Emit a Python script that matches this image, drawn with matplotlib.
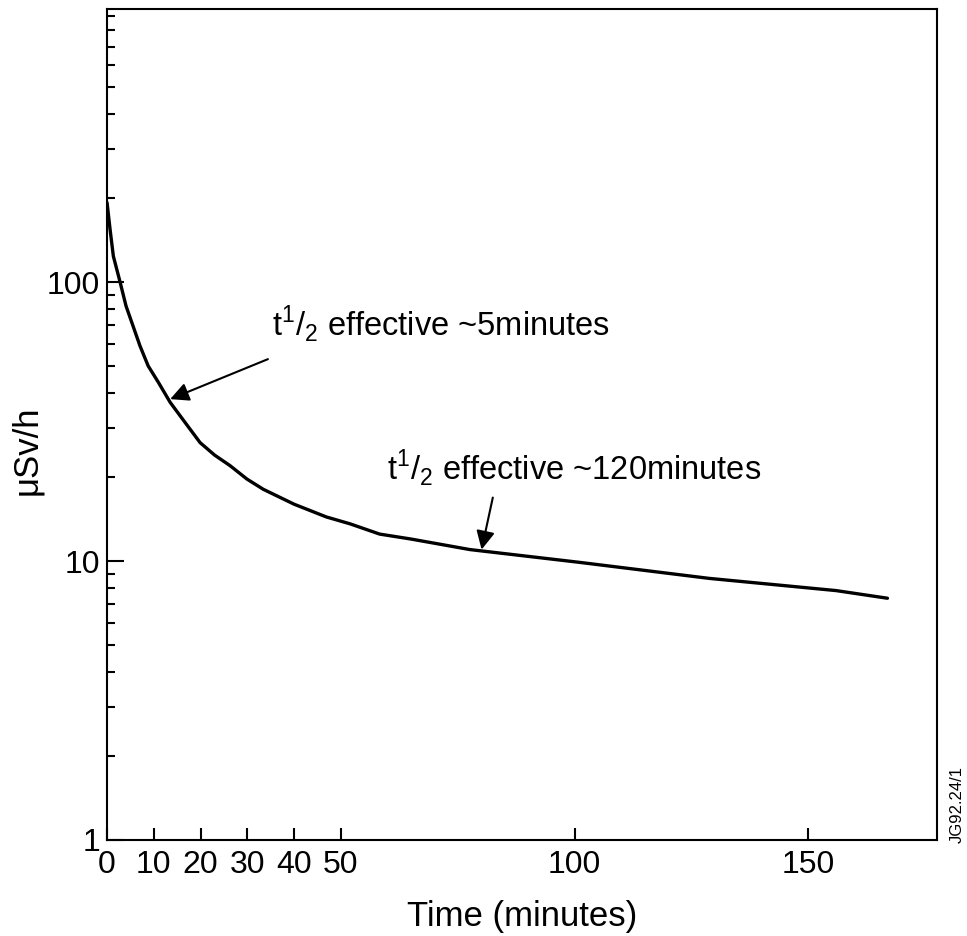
import matplotlib.pyplot as plt
from matplotlib.ticker import LogLocator, NullFormatter

plt.rcParams['font.family'] = ['Liberation Sans', 'DejaVu Sans']
plt.rcParams['mathtext.fontset'] = 'custom'
plt.rcParams['mathtext.rm'] = 'Liberation Sans'

# dose rate curve
time_min = [0, 0.64, 1.35, 2.8, 4.06, 5.3, 7.05, 8.8, 11, 13.5, 16.7, 19.9, 23,
            26.3, 29.9, 33.4, 40, 46.9, 52, 58.3, 65, 77.6, 101, 128.8, 155.9, 166.9]
dose_rate = [193, 155, 124, 100, 82.2, 71.7, 59.1, 50.1, 43.7, 37.1, 31.4, 26.6, 24.0,
             22.0, 19.7, 18.1, 16.0, 14.4, 13.6, 12.5, 12.0, 11.0, 9.9, 8.67, 7.84, 7.36]

xticks = [0, 10, 20, 30, 40, 50, 100, 150]
yticks = [1, 10, 100]

fig = plt.figure(figsize=(9.67, 9.36), dpi=100)
ax = fig.add_axes([0.1107, 0.1026, 0.8583, 0.8878])

ax.plot(time_min, dose_rate, color='black', lw=2.4,
        solid_capstyle='round', solid_joinstyle='round')

ax.set_yscale('log')
ax.set_xlim(0, 177.5)
ax.set_ylim(1, 955)
ax.set_xticks(xticks)
ax.set_xticklabels([str(t) for t in xticks])
ax.set_yticks(yticks)
ax.set_yticklabels([str(t) for t in yticks])
ax.yaxis.set_minor_locator(LogLocator(base=10, subs=range(2, 10)))
ax.yaxis.set_minor_formatter(NullFormatter())

ax.tick_params(axis='both', which='major', direction='in', labelsize=23,
               width=1.5, color='black')
ax.tick_params(axis='y', which='major', length=12, pad=5)
ax.tick_params(axis='y', which='minor', direction='in', length=6, width=1.5)
ax.tick_params(axis='x', which='major', length=9, pad=7)
ax.tick_params(axis='x', which='minor', length=0)

for s in ax.spines.values():
    s.set_linewidth(1.5)

ax.set_xlabel('Time (minutes)', fontsize=25)
ax.set_ylabel('\u03bcSv/h', fontsize=25)
ax.xaxis.set_label_coords(0.5, -0.072)
ax.yaxis.set_label_coords(-0.077, 0.469)

arrow = dict(arrowstyle='-|>', color='black', lw=1.5, mutation_scale=28,
             shrinkA=0, shrinkB=0)
ax.annotate('', xy=(13.5, 38.1), xytext=(34.4, 53), arrowprops=arrow)
ax.annotate('', xy=(80.1, 11.0), xytext=(82.5, 16.9), arrowprops=arrow)

ax.text(35.3, 64.6, r't$^{\mathrm{1}}$/$_{\mathrm{2}}$ effective ~5minutes',
        fontsize=23.5, va='baseline', ha='left')
ax.text(59.8, 19.7, r't$^{\mathrm{1}}$/$_{\mathrm{2}}$ effective ~120minutes',
        fontsize=23.5, va='baseline', ha='left')

fig.text(0.998, 0.14, 'JG92.24/1', rotation=90, fontsize=12,
         ha='right', va='center')

fig.savefig('out.png', dpi=100)
